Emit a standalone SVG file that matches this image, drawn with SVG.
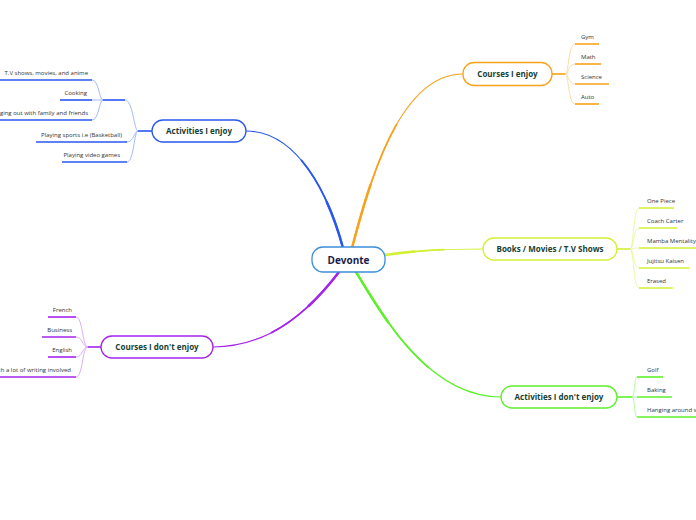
<svg xmlns="http://www.w3.org/2000/svg" width="696" height="520" viewBox="0 0 696 520">
<style>
.bg{fill:#ffffff}
.node{fill:#ffffff;stroke-width:1.3}
.ntext{font-family:"Open Sans","Noto Sans",sans-serif;font-weight:bold;font-size:8px;fill:#173f35;text-anchor:middle}
.ctext{font-family:"Open Sans","Noto Sans",sans-serif;font-size:6px;fill:#333333}
.end{text-anchor:end}
.main{fill:none;stroke-width:1.2;stroke-linecap:round}
.t2{stroke-width:1.8;stroke-dasharray:60 200}
.t3{stroke-width:2.5;stroke-dasharray:30 200}
.br{fill:none;stroke-width:0.8}
.ul{fill:none;stroke-width:1.6}
.blue{stroke:#2a57f0}.blueL{stroke:#8fa9f6}
.orange{stroke:#f8a21c}.orangeL{stroke:#fbd48f}
.yel{stroke:#d3ef36}.yelL{stroke:#e6f78f}
.green{stroke:#5cf029}.greenL{stroke:#a6f68a}
.purple{stroke:#a524ec}.purpleL{stroke:#d29cf5}
</style>
<defs>
<path id="cb" d="M343,248 C330,200 300,131 246,131"/>
<path id="co" d="M352,248 C370,180 400,74 463,74"/>
<path id="cy" d="M385,255 C420,250 450,249 483,249"/>
<path id="cp" d="M339,272 C310,310 270,347 213,347"/>
<path id="cg" d="M356,272 C385,320 430,397 501,397"/>
</defs>
<rect class="bg" width="696" height="520"/>
<g id="connectors">
<path class="main blue" pathLength="100" d="M343,248 C330,200 300,131 246,131"/>
<path class="main blue t2" pathLength="100" d="M343,248 C330,200 300,131 246,131"/>
<path class="main blue t3" pathLength="100" d="M343,248 C330,200 300,131 246,131"/>
<path class="main orange" pathLength="100" d="M352,248 C370,180 400,74 463,74"/>
<path class="main orange t2" pathLength="100" d="M352,248 C370,180 400,74 463,74"/>
<path class="main orange t3" pathLength="100" d="M352,248 C370,180 400,74 463,74"/>
<path class="main yel" pathLength="100" d="M385,255 C420,250 450,249 483,249"/>
<path class="main yel t2" pathLength="100" d="M385,255 C420,250 450,249 483,249"/>
<path class="main yel t3" pathLength="100" d="M385,255 C420,250 450,249 483,249"/>
<path class="main purple" pathLength="100" d="M339,272 C310,310 270,347 213,347"/>
<path class="main purple t2" pathLength="100" d="M339,272 C310,310 270,347 213,347"/>
<path class="main purple t3" pathLength="100" d="M339,272 C310,310 270,347 213,347"/>
<path class="main green" pathLength="100" d="M356,272 C385,320 430,397 501,397"/>
<path class="main green t2" pathLength="100" d="M356,272 C385,320 430,397 501,397"/>
<path class="main green t3" pathLength="100" d="M356,272 C385,320 430,397 501,397"/>
<path class="ul orange" d="M552,74 H565"/>
<path class="br orangeL" d="M565,74 C569,74 568,44 575,44 M565,74 C569,74 568,64 575,64 M565,74 C569,74 568,84 575,84 M565,74 C569,74 568,104 575,104"/>
<path class="ul yel" d="M617,249 H630"/>
<path class="br yelL" d="M630,249 C634,249 633,208 639,208 M630,249 C634,249 633,228 639,228 M630,249 C634,249 633,248 639,248 M630,249 C634,249 633,268 639,268 M630,249 C634,249 633,288 639,288"/>
<path class="ul green" d="M617,397 H632"/>
<path class="br greenL" d="M632,397 C635,397 634,377 637,377 M632,397 H637 M632,397 C635,397 634,417 637,417"/>
<path class="ul blue" d="M152,131 H138"/>
<path class="br blueL" d="M138,131 C134,131 134,142 127,142 M138,131 C134,131 134,162 127,162 M138,131 C134,131 133,100 125,100"/>
<path class="br blueL" d="M103,100 C99,100 99,80 92,80 M103,100 H92 M103,100 C99,100 99,120 92,120"/>
<path class="ul purple" d="M101,347 H88"/>
<path class="br purpleL" d="M88,347 C82,347 83,317 76,317 M88,347 C82,347 83,337 76,337 M88,347 C82,347 83,357 76,357 M88,347 C82,347 83,377 76,377"/>
</g>
<g id="devonte">
<rect class="node" x="312" y="247" width="73" height="25" rx="11" stroke="#3e8fdb"/>
<text x="348.5" y="263.5" style="font-family:'Open Sans','Noto Sans',sans-serif;font-weight:bold;font-size:10px;fill:#1b1d4a;text-anchor:middle">Devonte</text>
</g>
<g id="courses-enjoy">
<rect class="node orange" x="463" y="62.5" width="89" height="23" rx="11"/>
<text class="ntext" x="507.5" y="77">Courses I enjoy</text>
</g>
<g id="gym"><path class="ul orange" d="M575,44 H599"/><text class="ctext" x="581" y="39">Gym</text></g>
<g id="math"><path class="ul orange" d="M575,64 H601"/><text class="ctext" x="581" y="59">Math</text></g>
<g id="science"><path class="ul orange" d="M575,84 H609"/><text class="ctext" x="581" y="79">Science</text></g>
<g id="auto"><path class="ul orange" d="M575,104 H599"/><text class="ctext" x="581" y="99">Auto</text></g>
<g id="books">
<rect class="node yel" x="483" y="238" width="134" height="22" rx="11"/>
<text class="ntext" x="550" y="252">Books / Movies / T.V Shows</text>
</g>
<g id="onepiece"><path class="ul yel" d="M639,208 H674"/><text class="ctext" x="647" y="203">One Piece</text></g>
<g id="coachcarter"><path class="ul yel" d="M639,228 H677"/><text class="ctext" x="647" y="223">Coach Carter</text></g>
<g id="mamba"><path class="ul yel" d="M639,248 H696"/><text class="ctext" x="647" y="243">Mamba Mentality</text></g>
<g id="jujitsu"><path class="ul yel" d="M639,268 H689"/><text class="ctext" x="647" y="263">Jujitsu Kaisen</text></g>
<g id="erased"><path class="ul yel" d="M639,288 H673"/><text class="ctext" x="647" y="283">Erased</text></g>
<g id="activities-dont">
<rect class="node green" x="501" y="386" width="116" height="22" rx="11"/>
<text class="ntext" x="559" y="400">Activities I don't enjoy</text>
</g>
<g id="golf"><path class="ul green" d="M637,377 H663"/><text class="ctext" x="647" y="372">Golf</text></g>
<g id="baking"><path class="ul green" d="M637,397 H672"/><text class="ctext" x="647" y="392">Baking</text></g>
<g id="hanging-around"><path class="ul green" d="M637,417 H696"/><text class="ctext" x="647" y="412">Hanging around w</text></g>
<g id="activities-enjoy">
<rect class="node blue" x="152" y="120" width="94" height="22" rx="11"/>
<text class="ntext" x="199" y="134">Activities I enjoy</text>
</g>
<g id="blank-node"><path class="ul blue" d="M103,100 H125"/></g>
<g id="tvshows"><path class="ul blue" d="M0,80 H92"/><text class="ctext end" x="88" y="75">T.V shows, movies, and anime</text></g>
<g id="cooking"><path class="ul blue" d="M60,100 H92"/><text class="ctext end" x="87" y="95">Cooking</text></g>
<g id="hanging-out"><path class="ul blue" d="M0,120 H92"/><text class="ctext end" x="88" y="115">Hanging out with family and friends</text></g>
<g id="sports"><path class="ul blue" d="M36,142 H127"/><text class="ctext end" x="122" y="137">Playing sports i.e (Basketball)</text></g>
<g id="videogames"><path class="ul blue" d="M62,162 H127"/><text class="ctext end" x="120" y="157">Playing video games</text></g>
<g id="courses-dont">
<rect class="node purple" x="101" y="336" width="112" height="22" rx="11"/>
<text class="ntext" x="157" y="350">Courses I don't enjoy</text>
</g>
<g id="french"><path class="ul purple" d="M48,317 H76"/><text class="ctext end" x="72" y="312">French</text></g>
<g id="business"><path class="ul purple" d="M42,337 H76"/><text class="ctext end" x="72" y="332">Business</text></g>
<g id="english"><path class="ul purple" d="M48,357 H76"/><text class="ctext end" x="72" y="352">English</text></g>
<g id="writing"><path class="ul purple" d="M0,377 H76"/><text class="ctext end" x="71" y="372">with a lot of writing involved</text></g>
</svg>
